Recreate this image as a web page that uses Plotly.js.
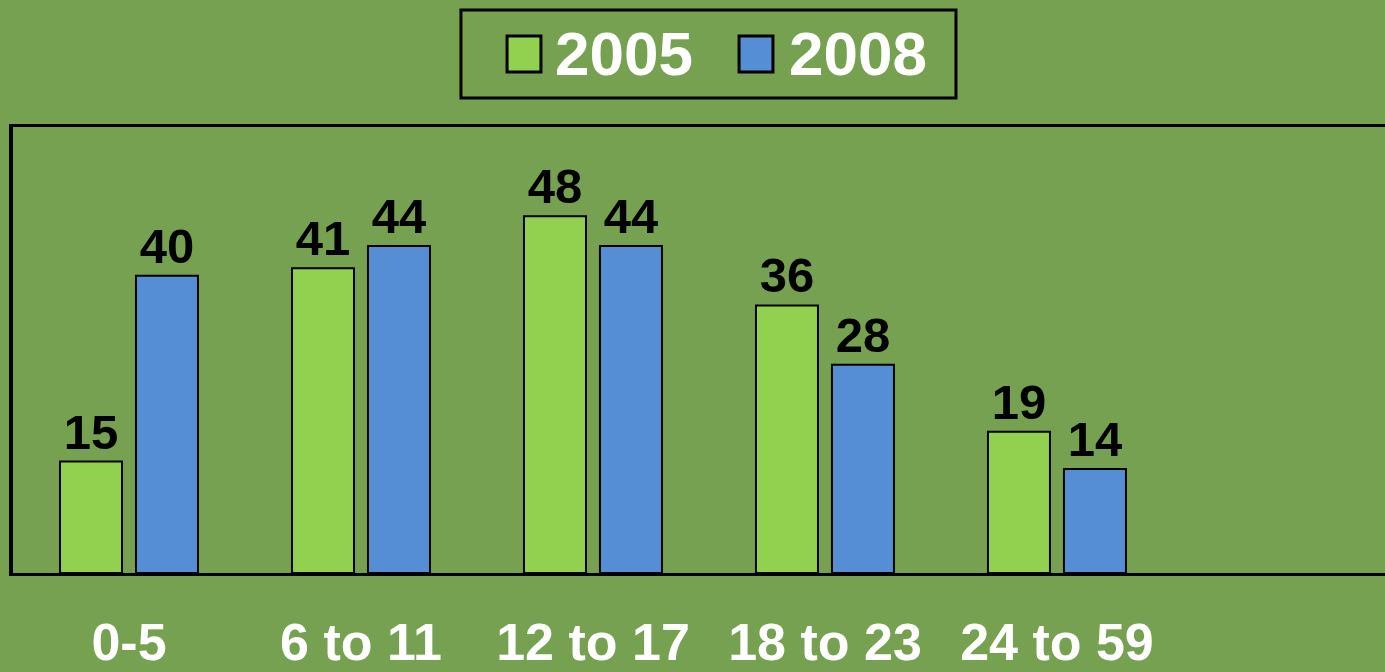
<!DOCTYPE html>
<html>
<head>
<meta charset="utf-8">
<script src="https://cdn.plot.ly/plotly-3.0.1.min.js"></script>
<style>
html,body{margin:0;padding:0;background:#76A150;}
#chart{width:1385px;height:672px;}
</style>
</head>
<body>
<div id="chart"></div>
<script>
const categories = ["0-5", "6 to 11", "12 to 17", "18 to 23", "24 to 59"];
const series2005 = [15, 41, 48, 36, 19];
const series2008 = [40, 44, 44, 28, 14];
const seriesNames = ["2005", "2008"];
const seriesColors = ["#92D050", "#558ED5"];

const FONT = "Liberation Sans, Arial, sans-serif";
const bg = "#76A150";

const traces = [series2005, series2008].map((vals, i) => ({
  type: "bar", name: seriesNames[i], x: categories, y: vals,
  marker: {color: seriesColors[i], line: {color: "#000", width: 2}},
  text: vals.map(String), textposition: "outside", cliponaxis: false,
  textfont: {family: FONT, size: 49, color: "#000", weight: "bold"},
  showlegend: false
}));

// Legend drawn as shapes + annotations (paper coordinates)
const legendBox = {x0: 0.3265, x1: 0.6873, y0: 1.065, y1: 1.2623};
const swatchX = [[0.3601, 0.3848], [0.5292, 0.5539]];
const labelX = [0.3936, 0.5641];
const shapes = [
  {type: "rect", xref: "paper", yref: "paper", x0: legendBox.x0, x1: legendBox.x1,
   y0: legendBox.y0, y1: legendBox.y1, line: {color: "#000", width: 3}, fillcolor: "rgba(0,0,0,0)"}
];
const annotations = [];
seriesNames.forEach((nm, i) => {
  shapes.push({type: "rect", xref: "paper", yref: "paper", x0: swatchX[i][0], x1: swatchX[i][1],
    y0: 1.1233, y1: 1.204, line: {color: "#000", width: 3}, fillcolor: seriesColors[i]});
  annotations.push({xref: "paper", yref: "paper", x: labelX[i], y: 1.165, xanchor: "left", yanchor: "middle",
    text: nm, showarrow: false, font: {family: FONT, size: 62, color: "#fff", weight: "bold"}});
});

const layout = {
  width: 1385, height: 672,
  paper_bgcolor: bg, plot_bgcolor: bg,
  margin: {l: 13, r: 0, t: 127, b: 99, pad: 0},
  barmode: "group", bargap: 0.345, bargroupgap: 0.184,
  font: {family: FONT, color: "#fff"},
  showlegend: false,
  shapes: shapes,
  annotations: annotations,
  xaxis: {
    type: "category", range: [-0.5, 5.414],
    showline: true, linecolor: "#000", linewidth: 3, mirror: true,
    showgrid: false, zeroline: false, ticks: "",
    tickfont: {family: FONT, size: 52, color: "#fff", weight: "bold"},
    ticklabelstandoff: 22
  },
  yaxis: {
    range: [0, 60], showline: true, linecolor: "#000", linewidth: 4,
    showgrid: false, zeroline: false, showticklabels: false, ticks: ""
  }
};

Plotly.newPlot("chart", traces, layout, {displayModeBar: false, staticPlot: true});
</script>
</body>
</html>
